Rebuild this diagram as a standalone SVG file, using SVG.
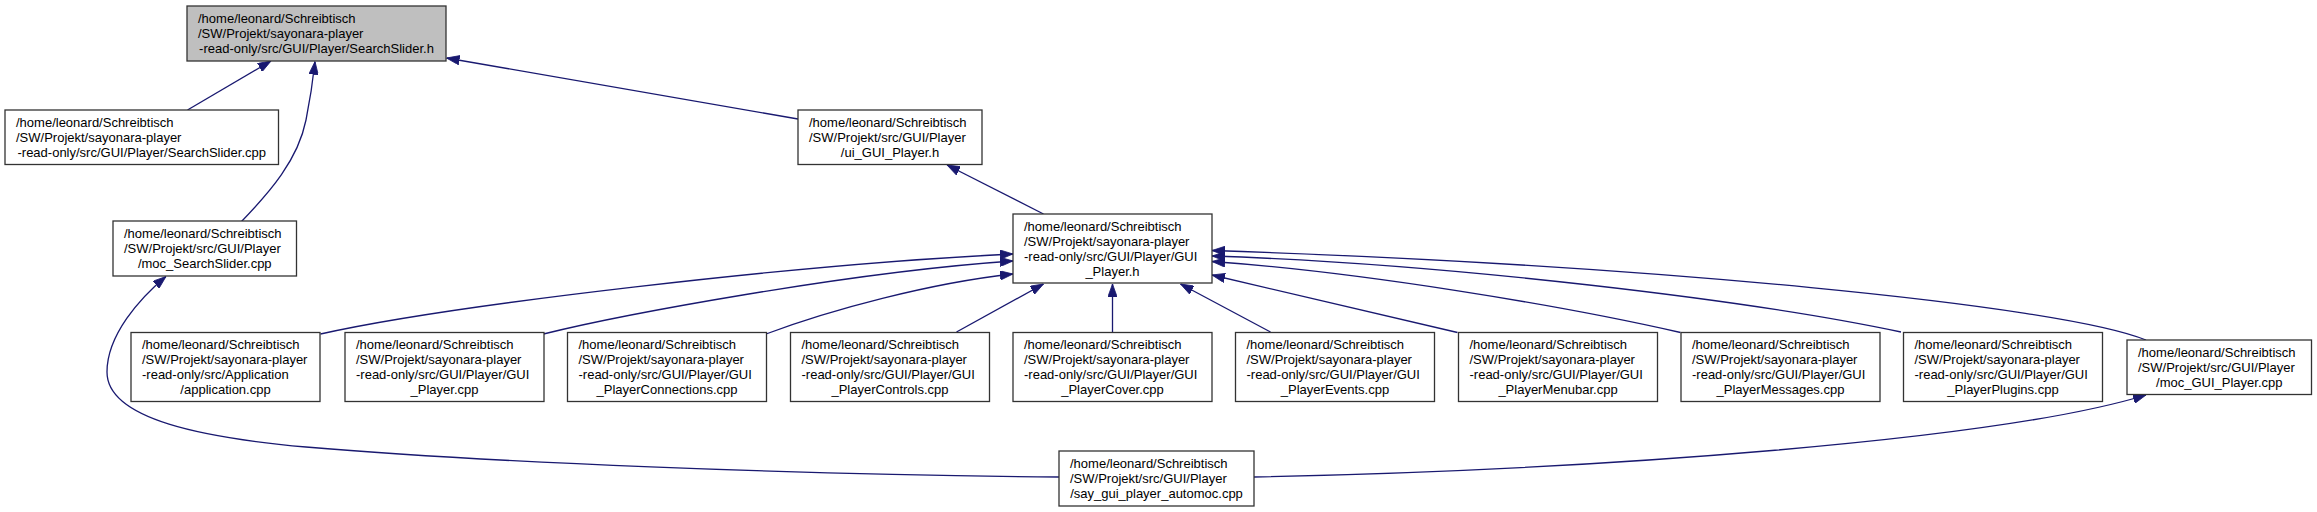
<svg xmlns="http://www.w3.org/2000/svg" width="2317" height="512" viewBox="0 0 2317 512">
<defs>
<style>
.node rect{fill:#ffffff;stroke:#333333;stroke-width:1.3}
.node.root rect{fill:#bfbfbf}
.node text{font-family:"Liberation Sans",Arial,Helvetica,sans-serif;font-size:13px;fill:#000000}
.node text.c{text-anchor:middle}
.edges path{fill:none;stroke:#191970;stroke-width:1.3;marker-end:url(#arr)}
</style>
<marker id="arr" markerUnits="userSpaceOnUse" viewBox="0 0 13 9.4" refX="13" refY="4.7" markerWidth="13" markerHeight="9.4" orient="auto">
<path d="M0,0 L13,4.7 L0,9.4 Z" fill="#191970" stroke="#191970" stroke-width="0.8"/>
</marker>
</defs>
<rect x="0" y="0" width="2317" height="512" fill="#ffffff"/>

<g class="edges" id="edges">
<path d="M187.5,110 L271,61"/>
<path d="M241.5,221.5 C270,192 298,160 306,120 C310,100 313,80 315,61.5"/>
<path d="M798,119 L446.5,58"/>
<path d="M1043.5,214 L947,165"/>
<path d="M1059,477 C800,475 480,462 306,447 C206,438 107,420 107,372 C107,335 140,298 166,276.5"/>
<path d="M1254,477 C1600,470 2000,440 2146,395"/>
<path d="M320.5,334 C450,305 800,264 1013,254"/>
<path d="M543.5,334 C620,315 850,272 1013,261"/>
<path d="M766,334 C830,310 930,283 1013,274"/>
<path d="M956.5,332 L1043.5,284"/>
<path d="M1112.5,332 L1112.5,284"/>
<path d="M1270.5,332 L1180.5,284"/>
<path d="M1457.5,332.5 L1212,275"/>
<path d="M1680.5,332.5 C1560,305 1360,272 1212,261.5"/>
<path d="M1901,332 C1750,300 1450,264 1212,256"/>
<path d="M2146,340 C2060,305 1650,265 1212,250.5"/>
</g>

<g class="node root" id="node_root">
<rect x="187" y="6" width="259" height="55"/>
<text x="198" y="23">/home/leonard/Schreibtisch</text>
<text x="198" y="38">/SW/Projekt/sayonara-player</text>
<text class="c" x="316.5" y="53">-read-only/src/GUI/Player/SearchSlider.h</text>
</g>

<g class="node" id="node_searchslider_cpp">
<rect x="5" y="110" width="273.5" height="54.5"/>
<text x="16" y="127">/home/leonard/Schreibtisch</text>
<text x="16" y="142">/SW/Projekt/sayonara-player</text>
<text class="c" x="141.75" y="157">-read-only/src/GUI/Player/SearchSlider.cpp</text>
</g>

<g class="node" id="node_moc_searchslider">
<rect x="113" y="221" width="183.5" height="55"/>
<text x="124" y="238">/home/leonard/Schreibtisch</text>
<text x="124" y="253">/SW/Projekt/src/GUI/Player</text>
<text class="c" x="204.75" y="268">/moc_SearchSlider.cpp</text>
</g>

<g class="node" id="node_ui_gui_player">
<rect x="798" y="110" width="184" height="54.5"/>
<text x="809" y="127">/home/leonard/Schreibtisch</text>
<text x="809" y="142">/SW/Projekt/src/GUI/Player</text>
<text class="c" x="890" y="157">/ui_GUI_Player.h</text>
</g>

<g class="node" id="node_gui_player_h">
<rect x="1013" y="214" width="199" height="69"/>
<text x="1024" y="230.5">/home/leonard/Schreibtisch</text>
<text x="1024" y="245.5">/SW/Projekt/sayonara-player</text>
<text x="1024" y="260.5">-read-only/src/GUI/Player/GUI</text>
<text class="c" x="1112.5" y="275.5">_Player.h</text>
</g>

<g class="node" id="node_application">
<rect x="131" y="332.5" width="189" height="69"/>
<text x="142" y="349">/home/leonard/Schreibtisch</text>
<text x="142" y="364">/SW/Projekt/sayonara-player</text>
<text x="142" y="379">-read-only/src/Application</text>
<text class="c" x="225.5" y="394">/application.cpp</text>
</g>

<g class="node" id="node_gui_player_cpp">
<rect x="345" y="332.5" width="199" height="69"/>
<text x="356" y="349">/home/leonard/Schreibtisch</text>
<text x="356" y="364">/SW/Projekt/sayonara-player</text>
<text x="356" y="379">-read-only/src/GUI/Player/GUI</text>
<text class="c" x="444.5" y="394">_Player.cpp</text>
</g>

<g class="node" id="node_connections">
<rect x="567.5" y="332.5" width="199" height="69"/>
<text x="578.5" y="349">/home/leonard/Schreibtisch</text>
<text x="578.5" y="364">/SW/Projekt/sayonara-player</text>
<text x="578.5" y="379">-read-only/src/GUI/Player/GUI</text>
<text class="c" x="667" y="394">_PlayerConnections.cpp</text>
</g>

<g class="node" id="node_controls">
<rect x="790.5" y="332.5" width="199" height="69"/>
<text x="801.5" y="349">/home/leonard/Schreibtisch</text>
<text x="801.5" y="364">/SW/Projekt/sayonara-player</text>
<text x="801.5" y="379">-read-only/src/GUI/Player/GUI</text>
<text class="c" x="890" y="394">_PlayerControls.cpp</text>
</g>

<g class="node" id="node_cover">
<rect x="1013" y="332.5" width="199" height="69"/>
<text x="1024" y="349">/home/leonard/Schreibtisch</text>
<text x="1024" y="364">/SW/Projekt/sayonara-player</text>
<text x="1024" y="379">-read-only/src/GUI/Player/GUI</text>
<text class="c" x="1112.5" y="394">_PlayerCover.cpp</text>
</g>

<g class="node" id="node_events">
<rect x="1235.5" y="332.5" width="199" height="69"/>
<text x="1246.5" y="349">/home/leonard/Schreibtisch</text>
<text x="1246.5" y="364">/SW/Projekt/sayonara-player</text>
<text x="1246.5" y="379">-read-only/src/GUI/Player/GUI</text>
<text class="c" x="1335" y="394">_PlayerEvents.cpp</text>
</g>

<g class="node" id="node_menubar">
<rect x="1458.5" y="332.5" width="199" height="69"/>
<text x="1469.5" y="349">/home/leonard/Schreibtisch</text>
<text x="1469.5" y="364">/SW/Projekt/sayonara-player</text>
<text x="1469.5" y="379">-read-only/src/GUI/Player/GUI</text>
<text class="c" x="1558" y="394">_PlayerMenubar.cpp</text>
</g>

<g class="node" id="node_messages">
<rect x="1681" y="332.5" width="199" height="69"/>
<text x="1692" y="349">/home/leonard/Schreibtisch</text>
<text x="1692" y="364">/SW/Projekt/sayonara-player</text>
<text x="1692" y="379">-read-only/src/GUI/Player/GUI</text>
<text class="c" x="1780.5" y="394">_PlayerMessages.cpp</text>
</g>

<g class="node" id="node_plugins">
<rect x="1903.5" y="332.5" width="199" height="69"/>
<text x="1914.5" y="349">/home/leonard/Schreibtisch</text>
<text x="1914.5" y="364">/SW/Projekt/sayonara-player</text>
<text x="1914.5" y="379">-read-only/src/GUI/Player/GUI</text>
<text class="c" x="2003" y="394">_PlayerPlugins.cpp</text>
</g>

<g class="node" id="node_moc_gui_player">
<rect x="2127" y="340" width="184.5" height="54.5"/>
<text x="2138" y="356.5">/home/leonard/Schreibtisch</text>
<text x="2138" y="371.5">/SW/Projekt/src/GUI/Player</text>
<text class="c" x="2219.25" y="386.5">/moc_GUI_Player.cpp</text>
</g>

<g class="node" id="node_automoc">
<rect x="1059" y="451" width="195" height="55"/>
<text x="1070" y="468">/home/leonard/Schreibtisch</text>
<text x="1070" y="483">/SW/Projekt/src/GUI/Player</text>
<text class="c" x="1156.5" y="498">/say_gui_player_automoc.cpp</text>
</g>
</svg>
